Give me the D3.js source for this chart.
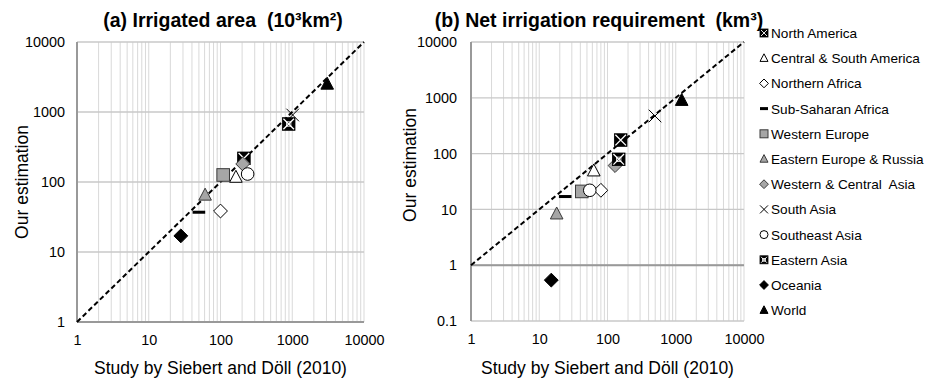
<!DOCTYPE html>
<html>
<head>
<meta charset="utf-8">
<script src="https://cdn.jsdelivr.net/npm/d3@7"></script>
<style>
  html, body { margin: 0; padding: 0; background: #fff; }
  svg { display: block; font-family: "Liberation Sans", Arial, sans-serif; }
  text { white-space: pre; }
</style>
</head>
<body>
<svg id="chart" width="934" height="381"></svg>
<script>
// Regions, in legend / drawing order
const regions = [
  "North America", "Central & South America", "Northern Africa", "Sub-Saharan Africa",
  "Western Europe", "Eastern Europe & Russia", "Western & Central  Asia", "South Asia",
  "Southeast Asia", "Eastern Asia", "Oceania", "World"
];
const markerTypes = [
  "hatchSquare", "openTriangle", "openDiamond", "dash",
  "graySquare", "grayTriangle", "grayDiamond", "cross",
  "openCircle", "hatchSquare2", "blackDiamond", "blackTriangle"
];

// (a) Irrigated area, 10^3 km2
const areaSiebertDoll = [212, 164, 100, 50, 109, 61, 204, 1014, 239, 892, 28, 3070];
const areaOurs        = [218, 117, 38.5, 37, 126, 65, 181, 906, 130, 674, 17, 2500];

// (b) Net irrigation requirement, km3
const nirSiebertDoll = [156, 63, 80, 24, 42, 18, 129, 497, 55, 146, 15, 1222];
const nirOurs        = [175, 49, 22, 17, 21, 8.3, 61, 472, 22, 79, 0.54, 900];

// Tick labels
const xTicks  = [1, 10, 100, 1000, 10000];
const yTicksA = [1, 10, 100, 1000, 10000];
const yTicksB = [0.1, 1, 10, 100, 1000, 10000];

const titleA = "(a) Irrigated area  (10\u00B3km\u00B2)";
const titleB = "(b) Net irrigation requirement  (km\u00B3)";
const xTitle = "Study by Siebert and D\u00F6ll (2010)";
const yTitle = "Our estimation";

const svg = d3.select("#chart");
const GRAY_FILL = "#a6a6a6";

function marker(g, type, s) {
  const t = type;
  if (t === "hatchSquare" || t === "hatchSquare2") {
    g.append("rect").attr("x", -s).attr("y", -s).attr("width", 2 * s).attr("height", 2 * s)
      .attr("fill", "#000").attr("stroke", "#000").attr("stroke-width", 0.8);
    g.append("path").attr("d", `M${-s + 1},${-s + 1}L${s - 1},${s - 1}M${s - 1},${-s + 1}L${-s + 1},${s - 1}`)
      .attr("stroke", "#fff").attr("stroke-width", s > 5 ? 1.3 : 0.9).attr("fill", "none");
    if (t === "hatchSquare2") {
      g.append("rect").attr("x", -s * 0.35).attr("y", -s * 0.35).attr("width", s * 0.7).attr("height", s * 0.7)
        .attr("fill", "none").attr("stroke", "#fff").attr("stroke-width", 0.8);
    }
  } else if (t === "openTriangle" || t === "grayTriangle" || t === "blackTriangle") {
    const fill = t === "openTriangle" ? "#fff" : t === "grayTriangle" ? GRAY_FILL : "#000";
    const stroke = t === "grayTriangle" ? "#3a3a3a" : "#000";
    g.append("path").attr("d", `M0,${-s * 1.1}L${s},${s * 0.8}L${-s},${s * 0.8}Z`)
      .attr("fill", fill).attr("stroke", stroke).attr("stroke-width", 1);
  } else if (t === "openDiamond" || t === "grayDiamond" || t === "blackDiamond") {
    const fill = t === "openDiamond" ? "#fff" : t === "grayDiamond" ? GRAY_FILL : "#000";
    const stroke = t === "grayDiamond" ? "#3a3a3a" : "#000";
    const r = s * 1.1;
    g.append("path").attr("d", `M0,${-r}L${r},0L0,${r}L${-r},0Z`)
      .attr("fill", fill).attr("stroke", stroke).attr("stroke-width", 1);
  } else if (t === "graySquare") {
    g.append("rect").attr("x", -s).attr("y", -s).attr("width", 2 * s).attr("height", 2 * s)
      .attr("fill", GRAY_FILL).attr("stroke", "#3a3a3a").attr("stroke-width", 1);
  } else if (t === "openCircle") {
    g.append("circle").attr("r", s).attr("fill", "#fff").attr("stroke", "#000").attr("stroke-width", 1);
  } else if (t === "dash") {
    g.append("rect").attr("x", -s).attr("y", -1.5).attr("width", 2 * s).attr("height", 3).attr("fill", "#000");
  } else if (t === "cross") {
    g.append("path").attr("d", `M${-s},${-s}L${s},${s}M${s},${-s}L${-s},${s}`)
      .attr("stroke", "#000").attr("stroke-width", 1).attr("fill", "none");
  }
}

function panel(opts) {
  const { x0, x1, y0, y1, yDomain, yTicks, xs, ys, title, titleX, yTitleX, yTitleY, yPad, axisAt } = opts;
  const x = d3.scaleLog().domain([1, 10000]).range([x0, x1]);
  const y = d3.scaleLog().domain(yDomain).range([y1, y0]);
  const g = svg.append("g");

  // vertical grid (every minor log step)
  g.append("g").selectAll("line").data(x.ticks()).join("line")
    .attr("x1", d => x(d)).attr("x2", d => x(d)).attr("y1", y0).attr("y2", y1)
    .attr("stroke", "#d9d9d9").attr("stroke-width", 1);
  // horizontal grid (decades only)
  g.append("g").selectAll("line").data(yTicks).join("line")
    .attr("x1", x0).attr("x2", x1).attr("y1", d => y(d)).attr("y2", d => y(d))
    .attr("stroke", "#c8c8c8").attr("stroke-width", 1.3);

  // axis lines
  g.append("line").attr("x1", x0).attr("x2", x0).attr("y1", y0).attr("y2", y1)
    .attr("stroke", "#999").attr("stroke-width", 2);
  g.append("line").attr("x1", x0).attr("x2", x1).attr("y1", y(axisAt)).attr("y2", y(axisAt))
    .attr("stroke", "#999").attr("stroke-width", 2);

  // 1:1 line
  g.append("line").attr("x1", x(1)).attr("y1", y(1)).attr("x2", x(10000)).attr("y2", y(10000))
    .attr("stroke", "#000").attr("stroke-width", 2).attr("stroke-dasharray", "5,3");

  // tick labels
  const ax = g.append("g").attr("transform", `translate(0,${y1})`)
    .call(d3.axisBottom(x).tickValues(xTicks).tickFormat(d3.format("d")).tickSize(0).tickPadding(13));
  ax.select(".domain").remove();
  ax.selectAll("text").attr("font-size", 14.4).attr("fill", "#000").attr("font-family", null);

  const ay = g.append("g").attr("transform", `translate(${x0},0)`)
    .call(d3.axisLeft(y).tickValues(yTicks).tickFormat(d => d < 1 ? String(d) : d3.format("d")(d)).tickSize(0).tickPadding(yPad));
  ay.select(".domain").remove();
  ay.selectAll("text").attr("font-size", 14.4).attr("fill", "#000").attr("font-family", null);

  // titles
  g.append("text").attr("x", titleX).attr("y", 27).attr("text-anchor", "middle")
    .attr("font-size", 19.5).attr("font-weight", "bold").text(title);
  g.append("text").attr("x", (x0 + x1) / 2).attr("y", 374).attr("text-anchor", "middle")
    .attr("font-size", 17.5).text(xTitle);
  g.append("text").attr("transform", `translate(${yTitleX},${yTitleY}) rotate(-90)`)
    .attr("text-anchor", "middle").attr("font-size", 17.5).text(yTitle);

  // points
  regions.forEach((r, i) => {
    const m = g.append("g").attr("transform", `translate(${x(xs[i])},${y(ys[i])})`);
    marker(m, markerTypes[i], 6.3);
  });
}

panel({ x0: 77, x1: 364, y0: 42, y1: 322, yDomain: [1, 10000], yTicks: yTicksA,
  xs: areaSiebertDoll, ys: areaOurs, title: titleA, titleX: 223, yTitleX: 28, yTitleY: 182, yPad: 12, axisAt: 1 });
panel({ x0: 471, x1: 744, y0: 42, y1: 321, yDomain: [0.1, 10000], yTicks: yTicksB,
  xs: nirSiebertDoll, ys: nirOurs, title: titleB, titleX: 599, yTitleX: 416, yTitleY: 165, yPad: 14, axisAt: 1 });

// legend
const legend = svg.append("g");
regions.forEach((r, i) => {
  const cy = 33 + i * 25.2;
  const m = legend.append("g").attr("transform", `translate(764,${cy})`);
  marker(m, markerTypes[i], 4);
  legend.append("text").attr("x", 771).attr("y", cy + 5).attr("font-size", 13.6).text(r);
});
</script>
</body>
</html>
